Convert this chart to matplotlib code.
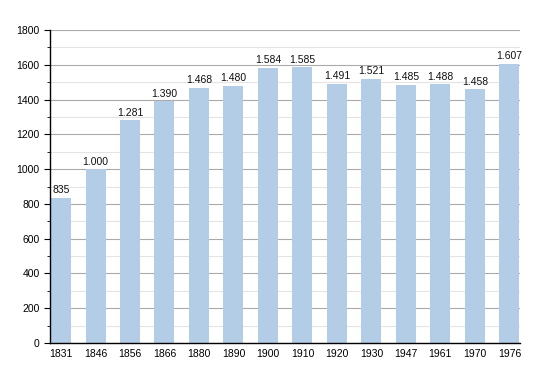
import matplotlib
matplotlib.use("Agg")
import matplotlib.pyplot as plt
from matplotlib.ticker import MultipleLocator

plt.rcParams['font.family'] = ['Liberation Sans', 'DejaVu Sans']

years = ["1831", "1846", "1856", "1866", "1880", "1890", "1900", "1910",
         "1920", "1930", "1947", "1961", "1970", "1976"]
population = [835, 1000, 1281, 1390, 1468, 1480, 1584, 1585,
              1491, 1521, 1485, 1488, 1458, 1607]
value_labels = ["835", "1.000", "1.281", "1.390", "1.468", "1.480", "1.584", "1.585",
                "1.491", "1.521", "1.485", "1.488", "1.458", "1.607"]

fig = plt.figure(figsize=(5.5, 3.73), dpi=100)
ax = fig.add_axes([0.0909, 0.0804, 0.854, 0.8392])

x = range(len(years))
ax.bar(x, population, width=0.58, color="#b3cde6", zorder=2)

for xi, v, lab in zip(x, population, value_labels):
    ax.text(xi, v + 15, lab, ha="center", va="bottom", fontsize=7.5, color="#111111")

ax.set_xlim(-0.32, 13.3)
ax.set_ylim(0, 1800)
ax.yaxis.set_major_locator(MultipleLocator(200))
ax.yaxis.set_minor_locator(MultipleLocator(100))
ax.grid(axis="y", which="major", color="#aaaaaa", linewidth=0.8, zorder=0)
ax.grid(axis="y", which="minor", color="#e4e4e4", linewidth=0.8, zorder=0)
ax.set_axisbelow(True)

ax.set_xticks(list(x))
ax.set_xticklabels(years)
ax.tick_params(axis="x", length=0, labelsize=7.5, pad=4)
ax.tick_params(axis="y", which="major", length=4, labelsize=7.5, direction="out")
ax.tick_params(axis="y", which="minor", length=2.5, direction="out")

for s in ["top", "right"]:
    ax.spines[s].set_visible(False)
ax.spines["left"].set_color("black")
ax.spines["bottom"].set_color("black")
ax.spines["left"].set_linewidth(1.0)
ax.spines["bottom"].set_linewidth(1.0)

fig.savefig("out.png", dpi=100)
